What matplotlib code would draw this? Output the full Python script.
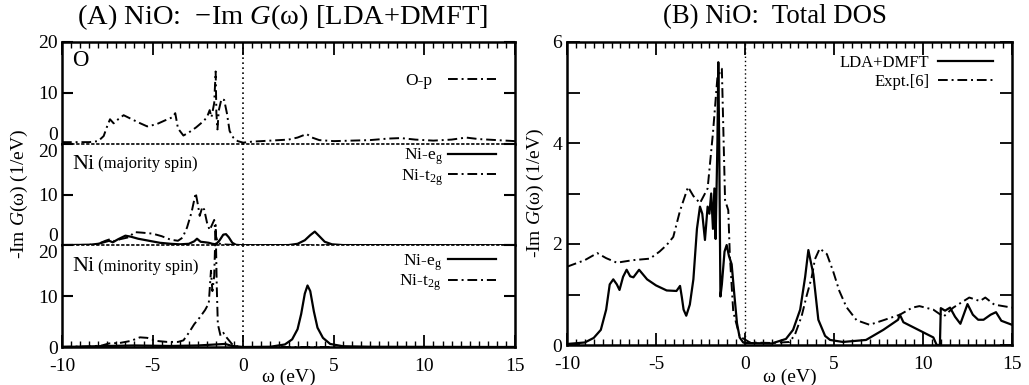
import numpy as np
import matplotlib
matplotlib.use("Agg")
import matplotlib.pyplot as plt
from matplotlib.ticker import MultipleLocator

plt.rcParams['font.family'] = ['Liberation Serif', 'DejaVu Serif']
plt.rcParams['mathtext.fontset'] = 'custom'
plt.rcParams['mathtext.rm'] = 'Liberation Serif'
plt.rcParams['mathtext.it'] = 'Liberation Serif:italic'
plt.rcParams['axes.unicode_minus'] = False

# ---------------- data ----------------
# Panel A, O-p
op_x = [-10, -8.5, -8.0, -7.7, -7.5, -7.35, -7.15, -6.9, -6.6, -6.2, -5.8, -5.3, -4.8, -4.3, -3.9,
        -3.75, -3.6, -3.3, -3.0, -2.6, -2.2, -2.0, -1.85, -1.75, -1.6, -1.52, -1.48, -1.42, -1.35,
        -1.2, -1.05, -0.9, -0.75, -0.55, -0.3, 0.0, 0.5, 1.5, 2.5, 3.0, 3.5, 3.8, 4.2, 5.0, 6.0,
        7.0, 8.0, 8.7, 9.5, 10.5, 11.5, 12.3, 13.0, 14.0, 15.0]
op_y = [0.3, 0.3, 0.5, 1.5, 3.5, 4.8, 4.0, 4.8, 5.6, 4.9, 4.2, 3.4, 3.8, 4.6, 5.2,
        6.0, 3.0, 1.6, 2.2, 3.2, 4.4, 5.2, 6.6, 5.2, 8.0, 14.2, 6.0, 2.8, 6.5,
        8.8, 8.6, 6.0, 2.5, 1.2, 0.5, 0.2, 0.4, 0.6, 0.8, 1.2, 1.9, 1.2, 0.7, 0.5, 0.6,
        0.7, 1.0, 1.1, 0.8, 0.6, 0.8, 1.2, 0.9, 0.7, 0.5]

# Panel A, Ni majority spin
maj_eg_x = [-10, -8.5, -8.0, -7.6, -7.4, -7.2, -6.9, -6.5, -6.2, -5.8, -5.2, -4.6, -4.0, -3.5,
            -3.0, -2.7, -2.55, -2.35, -2.1, -1.9, -1.7, -1.5, -1.3, -1.1, -0.95, -0.8, -0.6,
            -0.4, 0.0, 2.5, 3.0, 3.4, 3.7, 3.95, 4.2, 4.5, 4.9, 5.5, 15.0]
maj_eg_y = [0.05, 0.1, 0.3, 0.7, 0.9, 0.6, 1.2, 1.9, 1.7, 1.3, 0.9, 0.5, 0.3, 0.2,
            0.3, 0.8, 1.3, 0.7, 0.6, 0.5, 0.3, 0.2, 1.0, 2.1, 2.2, 1.6, 0.5,
            0.1, 0.0, 0.05, 0.3, 1.0, 2.0, 2.7, 1.8, 0.7, 0.2, 0.05, 0.0]
maj_t2g_x = [-10, -8.5, -8.0, -7.6, -7.35, -7.1, -6.8, -6.3, -6.0, -5.6, -5.0, -4.5, -4.0, -3.6,
             -3.35, -3.1, -2.85, -2.62, -2.5, -2.4, -2.25, -2.15, -2.0, -1.85, -1.7, -1.6,
             -1.52, -1.4, -1.2, 0.0, 15.0]
maj_t2g_y = [0.05, 0.1, 0.3, 0.9, 1.2, 0.8, 1.2, 1.6, 2.6, 2.5, 2.3, 1.8, 1.1, 0.9,
             1.5, 3.5, 6.5, 10.3, 8.0, 5.8, 7.6, 7.0, 4.5, 3.0, 4.2, 5.0,
             2.0, 0.5, 0.2, 0.0, 0.0]

# Panel A, Ni minority spin
min_eg_x = [-10, -7.5, -6.0, -4.0, -2.5, -1.5, -1.0, -0.6, 0.0, 1.5, 2.3, 2.7, 3.0, 3.2, 3.4,
            3.55, 3.7, 3.9, 4.1, 4.4, 4.8, 5.5, 7.0, 15.0]
min_eg_y = [0.0, 0.2, 0.3, 0.2, 0.3, 0.5, 0.6, 0.2, 0.0, 0.05, 0.5, 1.5, 3.5, 6.5, 10.5,
            12.1, 11.0, 7.0, 3.8, 1.8, 0.6, 0.15, 0.05, 0.0]
min_t2g_x = [-10, -8.5, -7.8, -7.4, -6.8, -6.2, -5.7, -5.3, -4.8, -4.2, -3.6, -3.3, -3.0, -2.7,
             -2.4, -2.1, -1.9, -1.78, -1.7, -1.6, -1.52, -1.46, -1.4, -1.25, -1.1, -0.9, -0.6,
             -0.3, 0.0, 15.0]
min_t2g_y = [0.05, 0.1, 0.3, 0.7, 0.8, 1.2, 1.9, 1.8, 1.2, 1.0, 1.0, 1.3, 2.8, 4.5,
             5.8, 7.3, 8.6, 15.0, 11.0, 14.0, 24.0, 12.0, 4.5, 2.2, 2.8, 1.8, 0.5,
             0.1, 0.0, 0.0]

# Panel B, total DOS
dmft_x = [-10, -9.0, -8.5, -8.1, -7.8, -7.6, -7.4, -7.2, -7.05, -6.85, -6.65, -6.45, -6.27, -5.95,
          -5.5, -5.0, -4.4, -3.85, -3.65, -3.55, -3.45, -3.3, -3.1, -2.9, -2.7, -2.53, -2.4,
          -2.25, -2.1, -2.0, -1.9, -1.8, -1.72, -1.65, -1.55, -1.5, -1.45, -1.38, -1.3, -1.15,
          -1.03, -0.9, -0.75, -0.6, -0.45, -0.3, -0.1, 0.0,
          1.5, 2.3, 2.7, 3.1, 3.38, 3.56, 3.84, 4.12, 4.5, 4.78, 5.5, 6.8, 7.77, 8.6, 8.7, 8.9,
          10.58, 10.77, 10.95, 11.0, 11.24, 11.52, 11.8, 12.1, 12.5, 12.8, 13.1, 13.4, 13.8,
          14.1, 14.4, 15.0]
dmft_y = [0.02, 0.05, 0.14, 0.3, 0.7, 1.2, 1.3, 1.2, 1.09, 1.35, 1.49, 1.36, 1.34, 1.49,
          1.3, 1.18, 1.08, 1.07, 1.17, 0.95, 0.7, 0.58, 0.8, 1.3, 2.3, 2.74, 2.6,
          2.08, 2.74, 2.6, 3.0, 2.3, 3.1, 2.1, 4.0, 5.6, 4.0, 0.96, 1.2, 1.85,
          1.98, 1.76, 1.6, 1.0, 0.43, 0.15, 0.05, 0.04,
          0.03, 0.12, 0.3, 0.7, 1.35, 1.88, 1.4, 0.5, 0.18, 0.1, 0.06, 0.1, 0.3, 0.5, 0.6, 0.45,
          0.15, 0.0, 0.0, 0.73, 0.68, 0.74, 0.56, 0.42, 0.81, 0.6, 0.5, 0.5, 0.6,
          0.65, 0.48, 0.4]
expt_x = [-10, -9.0, -8.3, -7.8, -7.2, -6.3, -5.34, -4.8, -4.4, -4.03, -3.65, -3.2, -2.9, -2.53,
          -2.1, -1.8, -1.55, -1.3, -1.12, -0.94, -0.85, -0.66, -0.3, 0.28, 1.5, 2.5, 2.8, 3.18,
          3.46, 3.74, 3.93, 4.2, 4.6, 4.96, 5.3, 5.7, 6.27, 7.0, 7.77, 8.7, 9.4, 9.8, 10.58,
          11.15, 11.7, 12.6, 13.2, 13.5, 14.0, 15.0]
expt_y = [1.55, 1.68, 1.82, 1.72, 1.63, 1.68, 1.71, 1.85, 1.98, 2.14, 2.66, 3.13, 2.95, 2.81,
          3.1, 4.2, 5.3, 5.47, 2.87, 2.67, 1.76, 0.66, 0.17, 0.05, 0.04, 0.06, 0.2, 0.57,
          0.97, 1.33, 1.7, 1.91, 1.8, 1.45, 1.07, 0.75, 0.49, 0.4, 0.49, 0.6, 0.74, 0.77, 0.7,
          0.56, 0.74, 0.94, 0.87, 0.94, 0.8, 0.74]

# ---------------- figure ----------------
fig = plt.figure(figsize=(10.29, 3.85), dpi=100)
DD = (0, (5, 2, 1, 2))  # gnuplot-like dash-dot
LW = 1.4
SPW = 1.8

L, R = 62 / 1029, 515 / 1029
T, B = 1 - 42 / 385, 1 - 347 / 385
h = (T - B) / 3
axs = [fig.add_axes([L, T - (i + 1) * h, R - L, h]) for i in range(3)]

for i, ax in enumerate(axs):
    ax.set_xlim(-10, 15)
    ax.set_ylim(0, 20)
    ax.axvline(0, color='black', lw=1.2, ls=(0, (1, 2)), zorder=1)
    for s in ax.spines.values():
        s.set_linewidth(SPW)
    ax.set_yticks([0, 10, 20])
    ax.tick_params(axis='y', which='both', direction='in', left=True, right=True,
                   length=8, width=1.5, labelsize=14, pad=3)
    ax.xaxis.set_major_locator(MultipleLocator(5))
    ax.xaxis.set_minor_locator(MultipleLocator(0.5))
    ax.tick_params(axis='x', which='major', direction='in', length=9, width=1.3, labelsize=14,
                   pad=8)
    ax.tick_params(axis='x', which='minor', direction='in', length=4.5, width=1.0)
    if i == 0:
        ax.tick_params(axis='x', which='both', top=True, bottom=False, labelbottom=False)
        ax.spines['bottom'].set_visible(False)
    elif i == 1:
        ax.tick_params(axis='x', which='both', top=False, bottom=False, labelbottom=False)
        ax.spines['bottom'].set_visible(False)
    else:
        ax.tick_params(axis='x', which='both', top=False, bottom=True, labelbottom=True)
    if i > 0:
        ax.spines['top'].set_linestyle((0, (1, 2)))
        ax.spines['top'].set_linewidth(1.2)

# y tick label alignment like the original
for i, ax in enumerate(axs):
    ax.set_yticklabels(['0', '10', '20'])
    labs = ax.get_yticklabels()
    if i < 2:
        labs[0].set_va('bottom')
    if i > 0:
        labs[2].set_va('top')

ax0, ax1, ax2 = axs
ax0.plot(op_x, op_y, color='black', lw=LW, ls=DD, label='O-p')
ax1.plot(maj_eg_x, maj_eg_y, color='black', lw=LW + 0.2, ls='-', label='Ni-e$_\\mathregular{g}$')
ax1.plot(maj_t2g_x, maj_t2g_y, color='black', lw=LW, ls=DD, label='Ni-t$_\\mathregular{2g}$')
ax2.plot(min_eg_x, min_eg_y, color='black', lw=LW + 0.2, ls='-', label='Ni-e$_\\mathregular{g}$')
ax2.plot(min_t2g_x, min_t2g_y, color='black', lw=LW, ls=DD, label='Ni-t$_\\mathregular{2g}$',
         clip_on=False)

leg_kw = dict(frameon=False, markerfirst=False, borderpad=0, borderaxespad=0,
              fontsize=12.5, labelspacing=0.0, handlelength=2.75)
ax0.legend(loc='center right', bbox_to_anchor=(0.958, 0.62), handletextpad=0.9, **leg_kw)
ax1.legend(loc='center right', bbox_to_anchor=(0.958, 0.77), handletextpad=0.3, **leg_kw)
ax2.legend(loc='center right', bbox_to_anchor=(0.958, 0.73), handletextpad=0.4, **leg_kw)

ax0.text(0.022, 0.82, 'O', transform=ax0.transAxes, fontsize=16.5, va='center', ha='left')
for ax, word, yy in [(ax1, '(majority spin)', 0.80), (ax2, '(minority spin)', 0.79)]:
    t = ax.text(0.022, yy, 'Ni', transform=ax.transAxes, fontsize=16, va='center', ha='left')
    ax.annotate(word, xy=(1, 0), xycoords=t, xytext=(3, 1), textcoords='offset points',
                fontsize=12, va='bottom', ha='left')

fig.text(0.019, (T + B) / 2, '-Im $G$(ω) (1/eV)', rotation=90, fontsize=14,
         va='center', ha='center')
fig.text((L + R) / 2, 1 - 377 / 385, 'ω (eV)', fontsize=14, va='center', ha='center')
fig.text(282 / 1029, 1 - 17 / 385, '(A) NiO:  \u2212Im $G$(ω) [LDA+DMFT]', fontsize=20.5,
         va='center', ha='center')

# ---------------- panel B ----------------
LB, RB = 567 / 1029, 1012 / 1029
TB, BB = 1 - 42 / 385, 1 - 345 / 385
axb = fig.add_axes([LB, BB, RB - LB, TB - BB])
axb.set_xlim(-10, 15)
axb.set_ylim(0, 6)
axb.axvline(0, color='black', lw=1.0, ls=(0, (1, 2)), zorder=1)
axb.plot(dmft_x, dmft_y, color='black', lw=LW + 0.2, ls='-', label='LDA+DMFT')
axb.plot(expt_x, expt_y, color='black', lw=LW, ls=DD, label='Expt.[6]')
for s in axb.spines.values():
    s.set_linewidth(SPW)
axb.xaxis.set_major_locator(MultipleLocator(5))
axb.xaxis.set_minor_locator(MultipleLocator(0.5))
axb.set_yticks([0, 1, 2, 3, 4, 5, 6])
axb.set_yticklabels(['0', '', '2', '', '4', '', '6'])
axb.tick_params(axis='both', which='major', direction='in', top=True, right=True,
                length=9, width=1.3, labelsize=14)
axb.tick_params(axis='x', which='major', pad=8)
axb.tick_params(axis='x', which='minor', direction='in', top=True, bottom=True,
                length=4.5, width=1.0)
axb.legend(loc='center right', bbox_to_anchor=(0.957, 0.90), frameon=False, markerfirst=False,
           borderpad=0, borderaxespad=0, handletextpad=0.5, fontsize=12, labelspacing=0.15,
           handlelength=3.3)
fig.text(535 / 1029, (TB + BB) / 2, '-Im $G$(ω) (1/eV)', rotation=90, fontsize=14,
         va='center', ha='center')
fig.text((LB + RB) / 2, 1 - 377 / 385, 'ω (eV)', fontsize=14, va='center', ha='center')
fig.text(775 / 1029, 1 - 17 / 385, '(B) NiO:  Total DOS', fontsize=19.3,
         va='center', ha='center')

fig.savefig('out.png', dpi=100)
